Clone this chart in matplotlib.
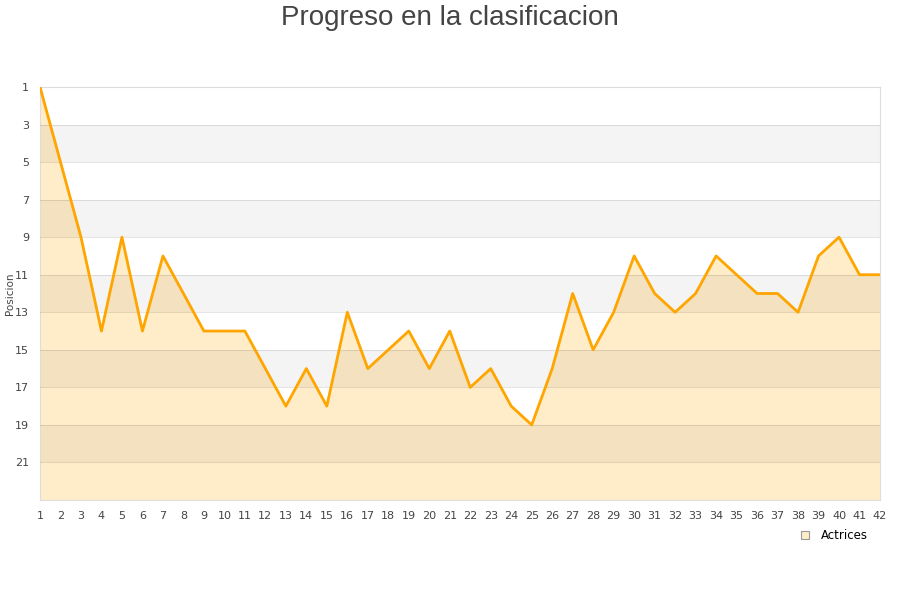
import matplotlib
matplotlib.use("Agg")
import matplotlib.pyplot as plt
from matplotlib.lines import Line2D

jornadas = list(range(1, 43))
posicion = [1, 5, 9, 14, 9, 14, 10, 12, 14, 14, 14, 16, 18, 16, 18, 13, 16, 15, 14, 16, 14,
            17, 16, 18, 19, 16, 12, 15, 13, 10, 12, 13, 12, 10, 11, 12, 12, 13, 10, 9, 11, 11]
yticks = list(range(1, 22, 2))

fig = plt.figure(figsize=(9, 6), dpi=100)
ax = fig.add_axes([40 / 900, 100 / 600, 840 / 900, 413 / 600])

ax.fill_between(jornadas, posicion, 23, color="#FFECC8", zorder=1)
# bandas grises
for y0 in range(3, 23, 4):
    ax.axhspan(y0, y0 + 2, color="black", alpha=0.045, lw=0, zorder=2)
for y in yticks[1:]:
    ax.axhline(y, color="black", alpha=0.1, lw=0.8, zorder=3)
ax.plot(jornadas, posicion, color="#FFA500", lw=2.0, zorder=4)

ax.set_xlim(1, 42)
ax.set_ylim(23, 1)
ax.set_xticks(jornadas)
ax.set_yticks(yticks)
ax.tick_params(length=0, labelsize=8, colors="#444444")
ax.tick_params(axis="x", pad=8)
ax.tick_params(axis="y", pad=8)
for s in ax.spines.values():
    s.set_color("#DDDDDD")
ax.set_ylabel("Posicion", fontsize=7.5, color="#444444")
ax.yaxis.set_label_coords(-0.03, 0.5)

fig.suptitle("Progreso en la clasificacion", fontsize=20, color="#444444", y=0.992,
             family=["Liberation Sans", "DejaVu Sans"])

h = Line2D([], [], ls="", marker="s", markersize=6, markerfacecolor="#FFECC8",
           markeredgecolor="#999999", markeredgewidth=0.8)
fig.legend([h], ["Actrices"], loc="center", bbox_to_anchor=(0.923, 0.107), frameon=False,
           fontsize=8.5, handletextpad=0.4)

fig.savefig("out.png")
